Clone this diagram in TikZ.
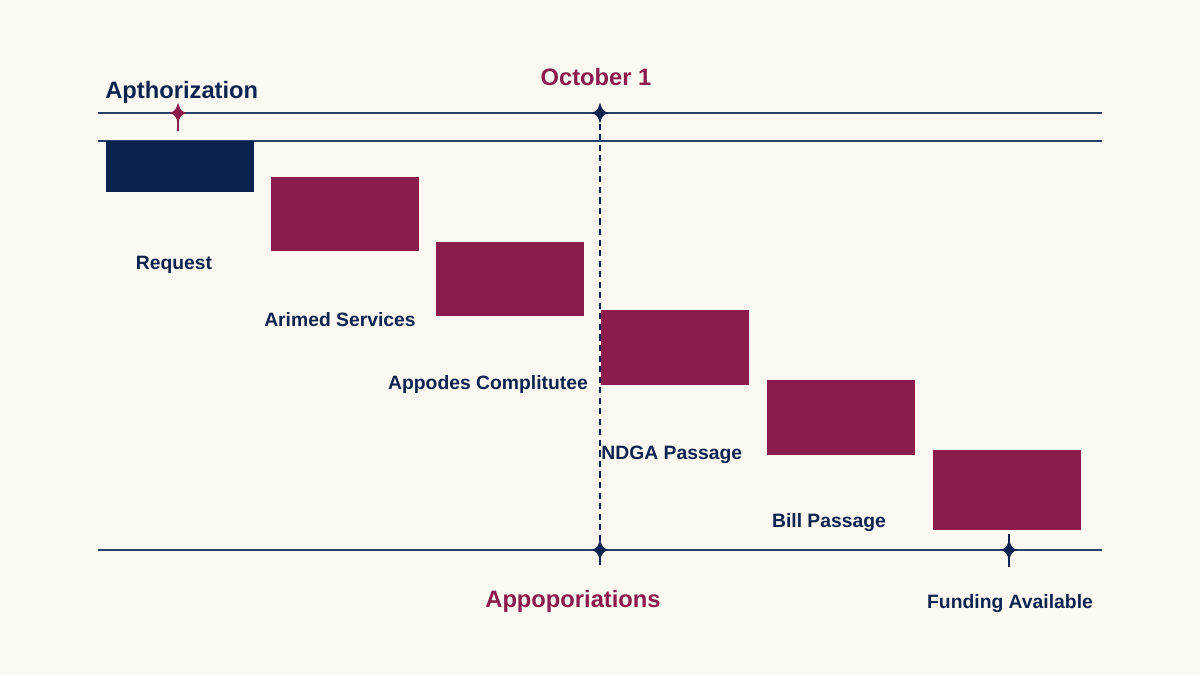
\documentclass[tikz,border=0pt]{standalone}
\usepackage{fontspec}
\setmainfont{Liberation Sans}
\usetikzlibrary{positioning}
\definecolor{navy}{HTML}{0C2350}
\definecolor{wine}{HTML}{8A1B4B}
\definecolor{rulecol}{HTML}{2B3F6B}
\definecolor{paper}{HTML}{FBF9F1}
\tikzset{
  phase/.style={fill=wine, minimum width=2.96cm, minimum height=1.5cm,
                inner sep=0pt, outer sep=0pt, anchor=north west},
  lbl/.style={text=navy, inner sep=0pt, font=\fontsize{11}{13}\selectfont\bfseries},
  head/.style={inner sep=0pt, font=\fontsize{13.5}{16}\selectfont\bfseries},
  track/.style={draw=rulecol, line width=0.8pt},
  tick/.style={line width=1.1pt},
  pics/spark/.style={code={
    \fill[#1] (0,0.21) .. controls (0.05,0.05) .. (0.17,0)
      .. controls (0.05,-0.05) .. (0,-0.21)
      .. controls (-0.05,-0.05) .. (-0.17,0)
      .. controls (-0.05,0.05) .. (0,0.21);}}
}

\begin{document}
\begin{tikzpicture}
\fill[paper] (0,0) rectangle (24,13.5);
\useasboundingbox (0,0) rectangle (24,13.5);

    \coordinate (topL) at (1.96,11.24);  \coordinate (topR) at (22.04,11.24);
    \coordinate (midL) at (1.96,10.68);  \coordinate (midR) at (22.04,10.68);
    \coordinate (botL) at (1.96,2.5);    \coordinate (botR) at (22.04,2.5);
    \coordinate (auth) at (3.56,11.24);
    \coordinate (oct)  at (12,11.24);
    \coordinate (appr) at (12,2.5);
    \coordinate (fund) at (20.18,2.5);

    \draw[track] (topL) -- (topR);
    \draw[track] (midL) -- (midR);
    \draw[track] (botL) -- (botR);
    \draw[navy, line width=0.9pt, dash pattern=on 3.5pt off 2.5pt] (oct) -- (appr);

    % phases
    \node[phase, fill=navy, minimum height=1.02cm] (req) at (2.12,10.68) {};
    \node[phase, minimum height=1.48cm] (arm) at (5.42,9.96) {};
    \node[phase, minimum height=1.48cm] (cmt) at (8.72,8.66) {};
    \node[phase] (ndga) at (12.02,7.30) {};
    \node[phase] (bill) at (15.34,5.90) {};
    \node[phase, minimum height=1.6cm] (avail) at (18.66,4.50) {};

    \node[lbl, anchor=base] (reqL)   at (3.48,8.12) {Request};
    \node[lbl, anchor=base] (armL)   at (6.80,6.98) {Arimed Services};
    \node[lbl, anchor=base] (cmtL)   at (9.76,5.72) {Appodes Complitutee};
    \node[lbl, anchor=base west] (ndgaL) at (12.02,4.32) {NDGA Passage};
    \node[lbl, anchor=base] (billL)  at (16.58,2.96) {Bill Passage};
    \node[lbl, anchor=base] (fundL)  at (20.20,1.34) {Funding Available};

    \node[head, text=navy, anchor=base west] (authL) at (2.10,11.52) {Apthorization};
    \node[head, text=wine, anchor=base] (octL) at (11.92,11.78) {October 1};
    \node[head, text=wine, anchor=base] (apprL) at (11.46,1.36) {Appoporiations};

    % markers
    \draw[tick, wine] (auth) -- ++(0,-0.36);
    \draw[tick, navy] (appr) -- ++(0,-0.3);
    \draw[tick, navy] (fund) ++(0,0.32) -- ++(0,-0.66);
    \pic at (auth) {spark=wine};
    \pic at (oct)  {spark=navy};
    \pic at (appr) {spark=navy};
    \pic at (fund) {spark=navy};
\end{tikzpicture}
\end{document}
